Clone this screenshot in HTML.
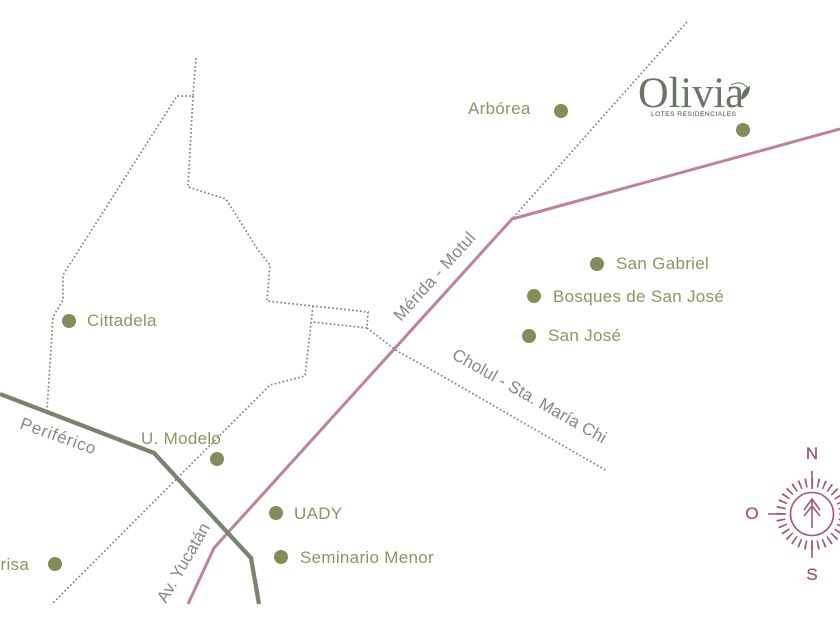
<!DOCTYPE html>
<html><head><meta charset="utf-8"><style>
html,body{margin:0;padding:0;background:#fff;width:840px;height:630px;overflow:hidden}
svg{display:block}
text{font-family:"Liberation Sans",sans-serif}
.g{fill:#8f9463;font-size:17px;letter-spacing:.3px}
.r{fill:#848c80;font-size:17px;letter-spacing:.3px}
.d{fill:none;stroke:#7a8872;stroke-width:1.7;stroke-dasharray:1.7 2.3}
.dot{fill:#868c58}
.c{fill:#a4596d;font-size:17px;text-anchor:middle;stroke:#a4596d;stroke-width:.3}
</style></head><body>
<svg width="840" height="630" viewBox="0 0 840 630" xmlns="http://www.w3.org/2000/svg">
<path class="d" d="M196,58 L193,96 L177,96 L63,275 L63,300 L53,317 L47,410"/>
<path class="d" d="M193,96 L188,187 L226,199 L258,250 L270,265 L267,301 L368,312 L367,328 L312,322"/>
<path class="d" d="M313,306 L305,376 L270,385 L53,603"/>
<path class="d" d="M367,328 L397,351 L437,373 L607,471"/>
<path class="d" d="M687,22 L512,219"/>
<path d="M188,604 L214,548 L512,219 L840,129" fill="none" stroke="#bc8591" stroke-width="3"/>
<path d="M0,394 L154,453 L251,558 L259,604" fill="none" stroke="#79846f" stroke-width="4.300"/>
<g class="dot">
<circle cx="561" cy="111" r="7"/><circle cx="743" cy="130" r="7"/><circle cx="597" cy="264" r="7"/>
<circle cx="534" cy="296" r="7"/><circle cx="529" cy="336" r="7"/><circle cx="69" cy="321" r="7"/>
<circle cx="217" cy="459" r="7"/><circle cx="276" cy="513" r="7"/><circle cx="281" cy="557" r="7"/><circle cx="55" cy="564" r="7"/>
</g>
<text class="g" x="468" y="114">Arbórea</text>
<text class="g" x="616" y="269">San Gabriel</text>
<text class="g" x="553" y="302">Bosques de San José</text>
<text class="g" x="548" y="341">San José</text>
<text class="g" x="87" y="326">Cittadela</text>
<text class="g" x="141" y="444">U. Modelo</text>
<text class="g" x="294" y="519">UADY</text>
<text class="g" x="300" y="563">Seminario Menor</text>
<text class="g" x="-24" y="570">Florisa</text>
<text class="r" transform="translate(19,428) rotate(19.500)" style="letter-spacing:.8px">Periférico</text>
<text class="r" transform="translate(166,604) rotate(-60)" style="letter-spacing:0">Av. Yucatán</text>
<text class="r" transform="translate(401,322) rotate(-48)">Mérida - Motul</text>
<text class="r" transform="translate(451,358) rotate(29.500)" style="letter-spacing:.1px">Cholul - Sta. María Chi</text>
<text x="638" y="107" font-size="43" style="font-family:'Liberation Serif',serif" fill="#6b7566" textLength="106" lengthAdjust="spacingAndGlyphs">Olivia</text>
<text x="651" y="116" font-size="6.500" fill="#6b7566" stroke="#6b7566" stroke-width=".15" textLength="85" lengthAdjust="spacing">LOTES RESIDENCIALES</text>
<path d="M731,85 Q742,79 749,90" fill="none" stroke="#6b7566" stroke-width="1"/>
<path d="M741,100 Q741,90 750,86 Q750,96 741,100Z" fill="#6b7566"/>
<g stroke="#a4596d" fill="none" stroke-width="1.6">
<circle cx="812" cy="514" r="21.5"/>
<path d="M812,528 V499 M804,510 L812,499 L820,510 M804,516 L812,506 L820,516"/>
<path d="M812,471 V489 M812,540 V558 M768,514 H786"/>
<circle cx="812" cy="514" r="31.5" stroke-width="9" stroke-dasharray="1.7 4.485" stroke-dashoffset=".85"/>
</g>
<text class="c" x="812" y="459">N</text>
<text class="c" x="752" y="519">O</text>
<text class="c" x="812" y="580">S</text>
</svg>
</body></html>
